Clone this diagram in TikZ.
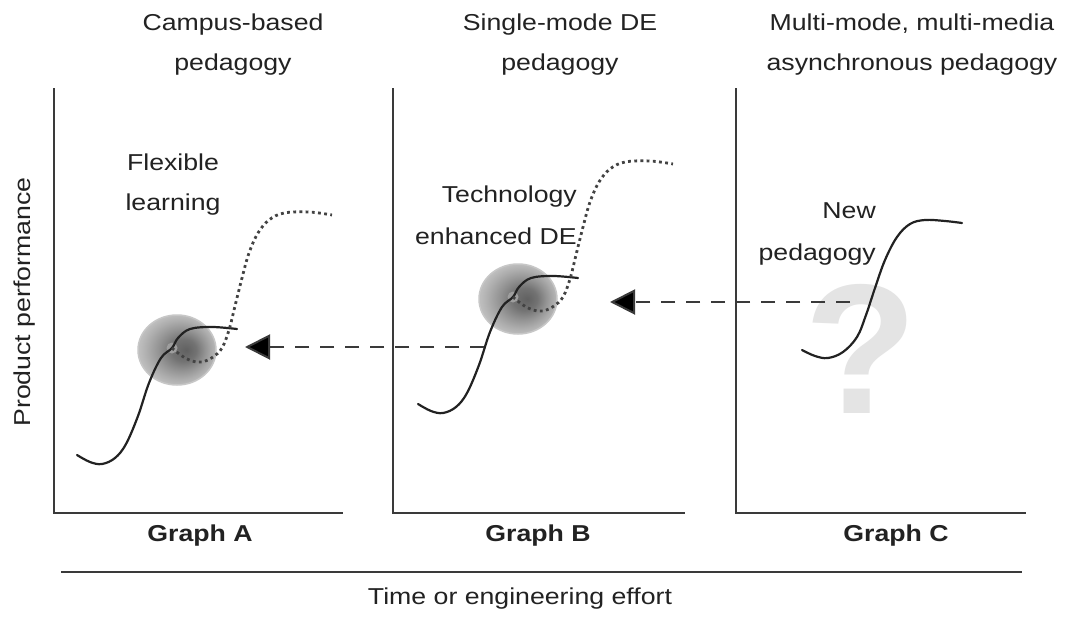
\documentclass[tikz,border=0pt]{standalone}
\usepackage{fontspec}
\setmainfont{Liberation Sans}[FakeStretch=1.16]
\newfontfamily\qfont{Liberation Sans}
\usetikzlibrary{arrows.meta}

\definecolor{ink}{HTML}{222222}
\definecolor{axisgray}{HTML}{3A3A3A}
\definecolor{qgray}{HTML}{E4E4E4}

% soft grey spot around the junction of two curves
\pgfdeclareradialshading{blobshade}{\pgfpoint{6bp}{0bp}}{%
  color(0bp)=(black!62); color(8bp)=(black!55); color(15bp)=(black!42);
  color(21bp)=(black!32); color(25bp)=(black!26); color(30bp)=(black!26)}

\begin{document}
\begin{tikzpicture}[x=1pt,y=-1pt,
  txt/.style={font=\fontsize{23}{40}\selectfont, text=ink, inner sep=0pt},
  txtb/.style={font=\fontsize{23}{42}\selectfont, text=ink, inner sep=0pt},
  glabel/.style={font=\bfseries\fontsize{23}{28}\selectfont, text=ink, inner sep=0pt},
  axisline/.style={draw=axisgray, line width=2.2pt},
  curve/.style={draw=ink, line width=2.2pt, line cap=round},
  dotcurve/.style={draw=ink!85, line width=2.8pt, dash pattern=on 2.8pt off 3.4pt},
  dasharrow/.style={draw=axisgray, line width=2pt, dash pattern=on 14pt off 11pt,
    -{Triangle[length=25pt,width=25pt,fill=black]}},
  blob/.style={shading=blobshade, draw=black!22, line width=1.5pt}]

\useasboundingbox (0,0) rectangle (1068,618);
\fill[white] (0,0) rectangle (1068,618);

% column headings
\node[txt, align=center, anchor=north] (headA) at (233,14) {Campus-based\\pedagogy};
\node[txt, align=center, anchor=north] (headB) at (560,14) {Single-mode DE\\pedagogy};
\node[txt, align=center, anchor=north] (headC) at (912,14) {Multi-mode, multi-media\\asynchronous pedagogy};

% axes of the three graphs
\draw[axisline] (54,88) |- (343,513);
\draw[axisline] (393,88) |- (685,513);
\draw[axisline] (736,88) |- (1026,513);
\draw[axisline] (61,572) -- (1022,572);

\node[txt, rotate=90, anchor=base] (yaxis) at (30,302) {Product performance};
\node[txt, anchor=base] (xaxis) at (520,604) {Time or engineering effort};

\node[glabel, anchor=base] (gA) at (200,541) {Graph A};
\node[glabel, anchor=base] (gB) at (538,541) {Graph B};
\node[glabel, anchor=base] (gC) at (896,541) {Graph C};

% graph C: the question mark behind the new curve
\node[font=\qfont\bfseries\fontsize{185}{185}\selectfont, text=qgray,
      inner sep=0pt, anchor=base] (qmark) at (861,413) {?};

% graph A and graph B share the same pair of S-curves
\coordinate (jA) at (172,348);
\coordinate (jB) at (513,297);
\foreach \j in {jA,jB}{
  \begin{scope}[shift={(\j)}]
    \shade[blob] (5,2) ellipse [x radius=39, y radius=35];
    \fill[black!38] (0,0) circle [radius=5.5];
    \draw[curve] plot[smooth, tension=0.6] coordinates {(-95,107) (-82,114) (-70,116)
      (-57,110) (-46,96) (-34,68) (-23,35) (-11,10) (0,0) (6,-10) (18,-19) (40,-21) (65,-19)};
    \draw[dotcurve] plot[smooth, tension=0.6] coordinates {(0,0) (10,8) (20,13) (30,14)
      (41,9) (50,0) (57,-18) (63,-42) (70,-70) (77,-95) (86,-115) (97,-128) (112,-135)
      (137,-136) (160,-133)};
  \end{scope}
}

% graph C curve
\draw[curve] plot[smooth, tension=0.6] coordinates {(802,350) (815,356) (828,358)
  (843,352) (857,337) (866,315) (875,288) (885,260) (897,237) (910,224) (925,220)
  (945,221) (962,223)};

% labels inside the graphs
\node[txt, align=center, anchor=north] (flex) at (173,154) {Flexible\\learning};
\node[txtb, align=right, anchor=north east] (tech) at (577,186) {Technology\\enhanced DE};
\node[txtb, align=right, anchor=north east] (newp) at (876,202) {New\\pedagogy};

% dashed arrows pointing back from one graph to the previous one
\coordinate (tailA) at (484,347);
\coordinate (tipA) at (245,347);
\coordinate (tailB) at (850,302);
\coordinate (tipB) at (610,302);
\draw[dasharrow] (tailA) -- (tipA);
\draw[dasharrow] (tailB) -- (tipB);
\end{tikzpicture}
\end{document}
